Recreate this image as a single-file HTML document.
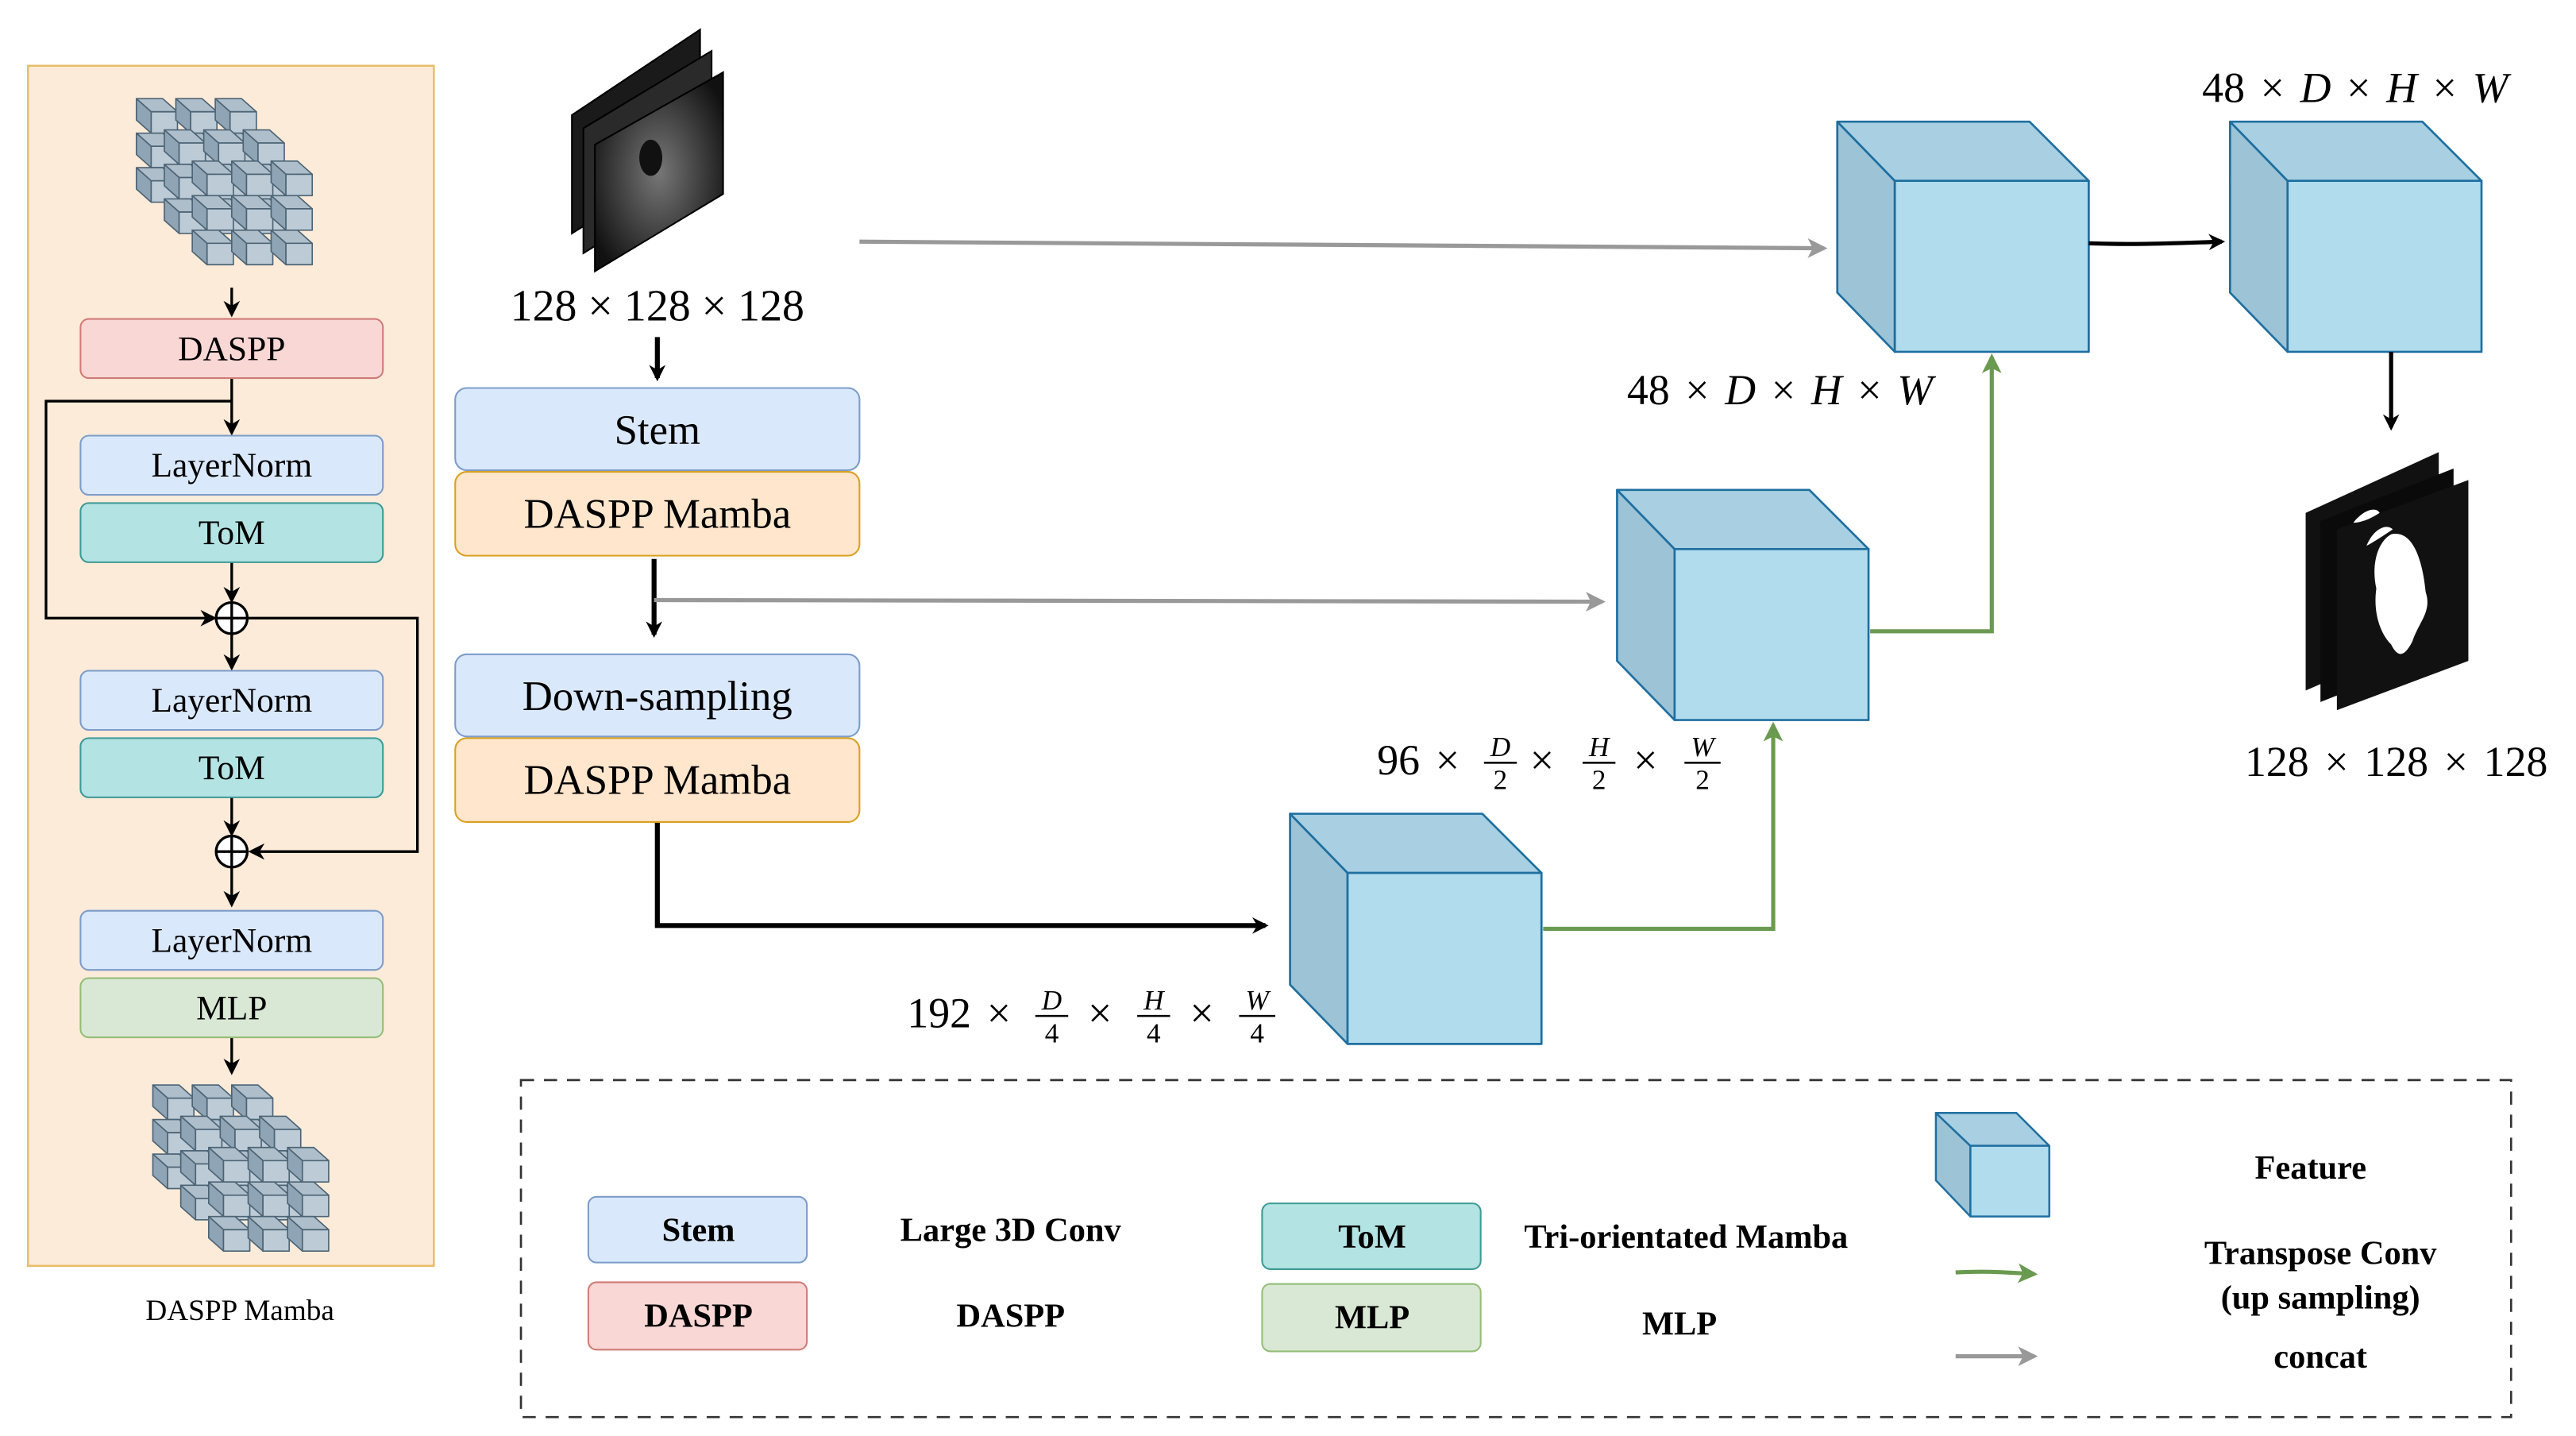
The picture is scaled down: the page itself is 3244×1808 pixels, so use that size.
<!DOCTYPE html>
<html><head><meta charset="utf-8"><style>
html,body{margin:0;padding:0;background:#fff;}
svg{display:block;}
text{font-family:"Liberation Serif",serif;}
</style></head><body>
<svg width="3244" height="1808" viewBox="0 0 1567.5 873.5" preserveAspectRatio="none" xmlns="http://www.w3.org/2000/svg">
<defs>
<marker id="ab" markerWidth="10" markerHeight="10" refX="8" refY="5" orient="auto" markerUnits="userSpaceOnUse"><path d="M0,0 L10,5 L0,10 L3,5 Z" fill="#000"/></marker>
<marker id="ag" markerWidth="12" markerHeight="12" refX="10" refY="6" orient="auto" markerUnits="userSpaceOnUse"><path d="M0,0 L12,6 L0,12 L3,6 Z" fill="#999"/></marker>
<marker id="agr" markerWidth="12" markerHeight="12" refX="10" refY="6" orient="auto" markerUnits="userSpaceOnUse"><path d="M0,0 L12,6 L0,12 L3,6 Z" fill="#6a9a50"/></marker>
<g id="sc" stroke="#4d6475" stroke-width="0.8" stroke-linejoin="round">
<polygon points="0,0 -9,-8 7,-8 16,0" fill="#aebfcb"/>
<polygon points="0,0 -9,-8 -9,5 0,13" fill="#8fa4b4"/>
<rect x="0" y="0" width="16" height="13" fill="#bccbd6"/>
</g>
<g id="row"><use href="#sc" x="0"/><use href="#sc" x="24"/><use href="#sc" x="48"/></g>
<g id="lay"><use href="#row" y="0"/><use href="#row" y="21"/><use href="#row" y="42"/></g>
<g id="grid"><use href="#lay" x="-34" y="-38"/><use href="#lay" x="-17" y="-19"/><use href="#lay" x="0" y="0"/></g>
<radialGradient id="us" cx="0.5" cy="0.5" r="0.6"><stop offset="0" stop-color="#777"/><stop offset="0.6" stop-color="#3a3a3a"/><stop offset="1" stop-color="#111"/></radialGradient>
<g id="cube" stroke="#1f6fa0" stroke-width="1.3" stroke-linejoin="round">
<polygon points="0,0 35,36 35,140 0,104" fill="#9cc3d6"/>
<polygon points="0,0 117,0 153,36 35,36" fill="#a8d0e2"/>
<rect x="35" y="36" width="118" height="104" fill="#b0dcee"/>
</g>
</defs>

<!-- left panel -->
<rect x="17" y="40" width="247" height="730" fill="#fdebd9" stroke="#e8bd6a" stroke-width="1.2"/>
<use href="#grid" x="126" y="106"/>
<use href="#grid" x="136" y="706"/>
<text x="146" y="803" font-size="18" text-anchor="middle">DASPP Mamba</text>

<g stroke="#000" stroke-width="1.6" fill="none">
<line x1="141" y1="175" x2="141" y2="191" marker-end="url(#ab)"/>
<line x1="141" y1="230" x2="141" y2="263" marker-end="url(#ab)"/>
<polyline points="141,244 28,244 28,376 130,376" marker-end="url(#ab)"/>
<line x1="141" y1="342" x2="141" y2="365" marker-end="url(#ab)"/>
<line x1="141" y1="386" x2="141" y2="406" marker-end="url(#ab)"/>
<polyline points="150,376 254,376 254,518 153,518" marker-end="url(#ab)"/>
<line x1="141" y1="485" x2="141" y2="507" marker-end="url(#ab)"/>
<line x1="141" y1="528" x2="141" y2="550" marker-end="url(#ab)"/>
<line x1="141" y1="631" x2="141" y2="652" marker-end="url(#ab)"/>
<circle cx="141" cy="376" r="9.5" fill="#fff"/><line x1="131.5" y1="376" x2="150.5" y2="376"/><line x1="141" y1="366.5" x2="141" y2="385.5"/>
<circle cx="141" cy="518" r="9.5" fill="#fff"/><line x1="131.5" y1="518" x2="150.5" y2="518"/><line x1="141" y1="508.5" x2="141" y2="527.5"/>
</g>
<g font-size="21" text-anchor="middle">
<rect x="49" y="194" width="184" height="36" rx="5" fill="#f8d7d5" stroke="#d07b77"/><text x="141" y="219">DASPP</text>
<rect x="49" y="265" width="184" height="36" rx="5" fill="#dae8fc" stroke="#7d9cc9"/><text x="141" y="290">LayerNorm</text>
<rect x="49" y="306" width="184" height="36" rx="5" fill="#b3e3e2" stroke="#3e9a96"/><text x="141" y="331">ToM</text>
<rect x="49" y="408" width="184" height="36" rx="5" fill="#dae8fc" stroke="#7d9cc9"/><text x="141" y="433">LayerNorm</text>
<rect x="49" y="449" width="184" height="36" rx="5" fill="#b3e3e2" stroke="#3e9a96"/><text x="141" y="474">ToM</text>
<rect x="49" y="554" width="184" height="36" rx="5" fill="#dae8fc" stroke="#7d9cc9"/><text x="141" y="579">LayerNorm</text>
<rect x="49" y="595" width="184" height="36" rx="5" fill="#d9e8d4" stroke="#94bd78"/><text x="141" y="620">MLP</text>
</g>

<!-- ultrasound stack -->
<g stroke="#000" stroke-width="1">
<polygon points="348,70 426,18 426,93 348,142" fill="#1a1a1a"/>
<polygon points="355,78 433,31 433,106 355,154" fill="#2a2a2a"/>
<polygon points="362,88 440,44 440,118 362,165" fill="url(#us)"/>
</g>
<ellipse cx="396" cy="96" rx="7" ry="11" fill="#111"/>
<text x="400" y="195" font-size="27" text-anchor="middle">128 × 128 × 128</text>

<!-- middle column -->
<g stroke="#000" stroke-width="3" fill="none">
<line x1="400" y1="205" x2="400" y2="230" marker-end="url(#ab)"/>
<line x1="398" y1="340" x2="398" y2="386" marker-end="url(#ab)"/>
<polyline points="400,500 400,563 770,563" marker-end="url(#ab)"/>
</g>
<g font-size="25.5" text-anchor="middle">
<rect x="277" y="236" width="246" height="50" rx="7" fill="#dae8fc" stroke="#7d9cc9"/><text x="400" y="270">Stem</text>
<rect x="277" y="287" width="246" height="51" rx="7" fill="#ffe6cc" stroke="#d9a020"/><text x="400" y="321">DASPP Mamba</text>
<rect x="277" y="398" width="246" height="50" rx="7" fill="#dae8fc" stroke="#7d9cc9"/><text x="400" y="432">Down-sampling</text>
<rect x="277" y="449" width="246" height="51" rx="7" fill="#ffe6cc" stroke="#d9a020"/><text x="400" y="483">DASPP Mamba</text>
</g>

<!-- gray arrows -->
<g stroke="#999" stroke-width="2.5" fill="none">
<line x1="523" y1="147" x2="1110" y2="151" marker-end="url(#ag)"/>
<line x1="398" y1="365" x2="975" y2="366" marker-end="url(#ag)"/>
</g>

<!-- cubes -->
<use href="#cube" x="1118" y="74"/>
<use href="#cube" x="1357" y="74"/>
<use href="#cube" x="984" y="298"/>
<use href="#cube" x="785" y="495"/>

<g stroke="#6a9a50" stroke-width="2.5" fill="none">
<polyline points="1138,384 1212,384 1212,217" marker-end="url(#agr)"/>
<polyline points="939,565 1079,565 1079,441" marker-end="url(#agr)"/>
</g>
<g stroke="#000" stroke-width="2.5" fill="none">
<path d="M1271,148 C1300,149 1320,148 1352,147" marker-end="url(#ab)"/>
<line x1="1455" y1="214" x2="1455" y2="260" marker-end="url(#ab)"/>
</g>

<!-- mask stack -->
<polygon points="1403,312 1484,275 1484,385 1403,420" fill="#111"/>
<polygon points="1412,317 1493,285 1493,395 1412,427" fill="#0a0a0a"/>
<polygon points="1422,322 1502,292 1502,402 1422,432" fill="#111"/>
<path d="M1455,325 C1468,322 1474,340 1476,360 C1480,372 1472,378 1468,390 C1462,402 1458,398 1455,392 C1448,385 1444,372 1446,358 C1443,345 1446,330 1455,325 Z" fill="#fff"/>
<path d="M1432,318 C1438,310 1446,308 1448,312 C1442,316 1436,318 1432,318 Z" fill="#fff"/>
<path d="M1440,332 C1444,322 1452,318 1456,322 C1450,326 1444,330 1440,332 Z" fill="#fff"/>

<!-- dimension labels -->
<g font-size="26" word-spacing="3">
<text x="1340" y="62">48 × <tspan font-style="italic">D</tspan> × <tspan font-style="italic">H</tspan> × <tspan font-style="italic">W</tspan></text>
<text x="990" y="246">48 × <tspan font-style="italic">D</tspan> × <tspan font-style="italic">H</tspan> × <tspan font-style="italic">W</tspan></text>
<text x="1366" y="472">128 × 128 × 128</text>
<text x="838" y="471">96 ×</text>
<text x="931" y="471">×</text>
<text x="994" y="471">×</text>
<text x="552" y="625">192 ×</text>
<text x="662" y="625">×</text>
<text x="724" y="625">×</text>
</g>
<g font-size="17" text-anchor="middle" stroke-width="1.2">
<text x="913" y="460" font-style="italic">D</text><line x1="903" y1="464" x2="923" y2="464" stroke="#000"/><text x="913" y="480">2</text>
<text x="973" y="460" font-style="italic">H</text><line x1="963" y1="464" x2="983" y2="464" stroke="#000"/><text x="973" y="480">2</text>
<text x="1036" y="460" font-style="italic">W</text><line x1="1025" y1="464" x2="1047" y2="464" stroke="#000"/><text x="1036" y="480">2</text>
<text x="640" y="614" font-style="italic">D</text><line x1="630" y1="618" x2="650" y2="618" stroke="#000"/><text x="640" y="634">4</text>
<text x="702" y="614" font-style="italic">H</text><line x1="692" y1="618" x2="712" y2="618" stroke="#000"/><text x="702" y="634">4</text>
<text x="765" y="614" font-style="italic">W</text><line x1="754" y1="618" x2="776" y2="618" stroke="#000"/><text x="765" y="634">4</text>
</g>

<!-- legend -->
<rect x="317" y="657" width="1211" height="205" fill="none" stroke="#333" stroke-width="1.3" stroke-dasharray="8,6"/>
<g font-size="20.5" font-weight="bold" text-anchor="middle">
<rect x="358" y="728" width="133" height="40" rx="5" fill="#dae8fc" stroke="#7d9cc9"/><text x="425" y="755">Stem</text>
<rect x="358" y="780" width="133" height="41" rx="5" fill="#f8d7d5" stroke="#d07b77"/><text x="425" y="807">DASPP</text>
<text x="615" y="755">Large 3D Conv</text>
<text x="615" y="807">DASPP</text>
<rect x="768" y="732" width="133" height="40" rx="5" fill="#b3e3e2" stroke="#3e9a96"/><text x="835" y="759">ToM</text>
<rect x="768" y="781" width="133" height="41" rx="5" fill="#d9e8d4" stroke="#94bd78"/><text x="835" y="808">MLP</text>
<text x="1026" y="759">Tri-orientated Mamba</text>
<text x="1022" y="812">MLP</text>
<text x="1406" y="717">Feature</text>
<text x="1412" y="769">Transpose Conv</text>
<text x="1412" y="796">(up sampling)</text>
<text x="1412" y="832">concat</text>
</g>
<g stroke="#1f6fa0" stroke-width="1.2" stroke-linejoin="round">
<polygon points="1178,677 1199,697 1199,740 1178,718" fill="#9cc3d6"/>
<polygon points="1178,677 1227,677 1247,697 1199,697" fill="#a8d0e2"/>
<rect x="1199" y="697" width="48" height="43" fill="#b0dcee"/>
</g>
<path d="M1190,774 C1210,773 1220,774 1238,775" stroke="#6a9a50" stroke-width="2.5" fill="none" marker-end="url(#agr)"/>
<line x1="1190" y1="825" x2="1238" y2="825" stroke="#999" stroke-width="2.5" marker-end="url(#ag)"/>
</svg>
</body></html>
